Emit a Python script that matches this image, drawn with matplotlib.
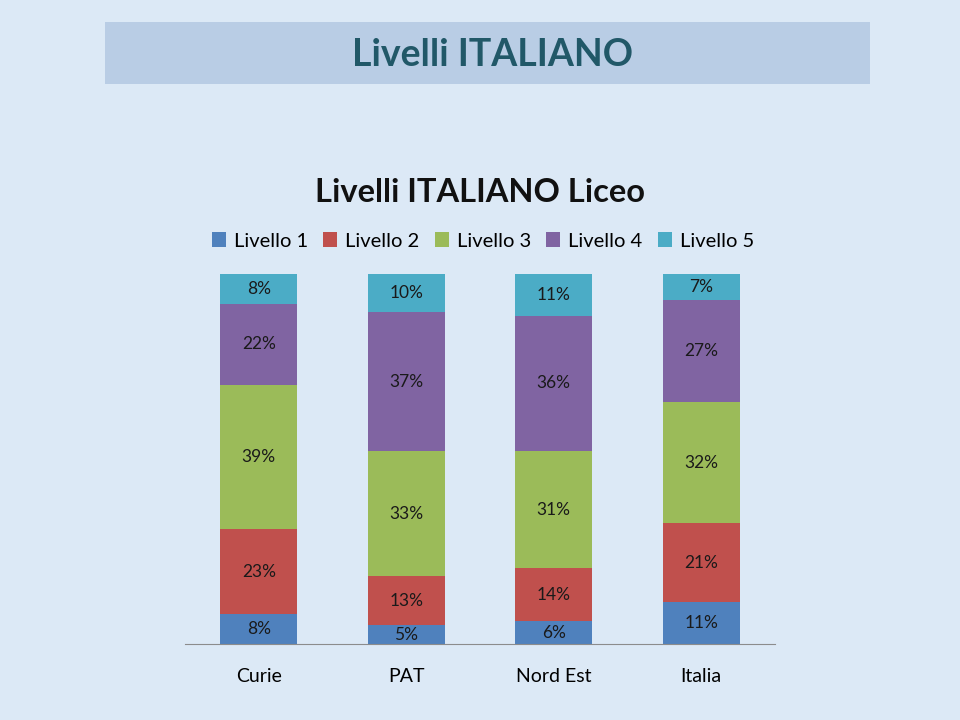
import numpy as np
import matplotlib.pyplot as plt
from matplotlib.patches import Rectangle

categories = ['Curie', 'PAT', 'Nord Est', 'Italia']
levels = ['Livello 1', 'Livello 2', 'Livello 3', 'Livello 4', 'Livello 5']
livello1 = [8, 5, 6, 11]
livello2 = [23, 13, 14, 21]
livello3 = [39, 33, 31, 32]
livello4 = [22, 37, 36, 27]
livello5 = [8, 10, 11, 7]
colors = ['#4F81BD', '#C0504D', '#9BBB59', '#8064A2', '#4BACC6']

plt.rcParams['font.family'] = ['Lato', 'DejaVu Sans']

series = np.array([livello1, livello2, livello3, livello4, livello5], dtype=float)
shares = series / series.sum(axis=0)  # 100% stacked

fig = plt.figure(figsize=(9.6, 7.2), dpi=100)
fig.patch.set_facecolor('#DCE9F6')

# title banner
fig.patches.append(Rectangle((105 / 960, 1 - 84 / 720), 765 / 960, 62 / 720,
                             transform=fig.transFigure, facecolor='#B9CDE5',
                             edgecolor='none', zorder=0))
fig.text(0.513, 1 - 55 / 720, 'Livelli ITALIANO', ha='center', va='center',
         fontsize=27, fontweight='bold', color='#215868')

fig.text(0.500, 1 - 193 / 720, 'Livelli ITALIANO Liceo', ha='center', va='center',
         fontsize=23.5, fontweight='bold', color='#111111')

ax = fig.add_axes([185 / 960, 76 / 720, 590 / 960, 370 / 720])
ax.set_facecolor('none')
x = np.arange(len(categories))
bottom = np.zeros(len(categories))
handles = []
for i in range(len(levels)):
    b = ax.bar(x, shares[i], 0.52, bottom=bottom, color=colors[i], label=levels[i])
    handles.append(b)
    for j in range(len(categories)):
        ax.text(x[j], bottom[j] + shares[i][j] / 2, f'{int(series[i][j])}%',
                ha='center', va='center', fontsize=12.5, color='#1a1a1a')
    bottom += shares[i]

ax.set_xlim(-0.5, 3.5)
ax.set_ylim(0, 1)
ax.set_yticks([])
ax.set_xticks(x)
ax.set_xticklabels(categories, fontsize=14)
ax.tick_params(axis='x', length=0, pad=17)
for s in ['top', 'right', 'left']:
    ax.spines[s].set_visible(False)
ax.spines['bottom'].set_color('#8C8C8C')

fig.legend(handles=handles, labels=levels, loc='center', ncol=5,
           bbox_to_anchor=(0.503, 1 - 241 / 720), frameon=False, fontsize=14.5,
           handlelength=0.7, handleheight=0.7, handletextpad=0.4, columnspacing=0.75)

fig.savefig('out.png', dpi=100, facecolor=fig.get_facecolor())
